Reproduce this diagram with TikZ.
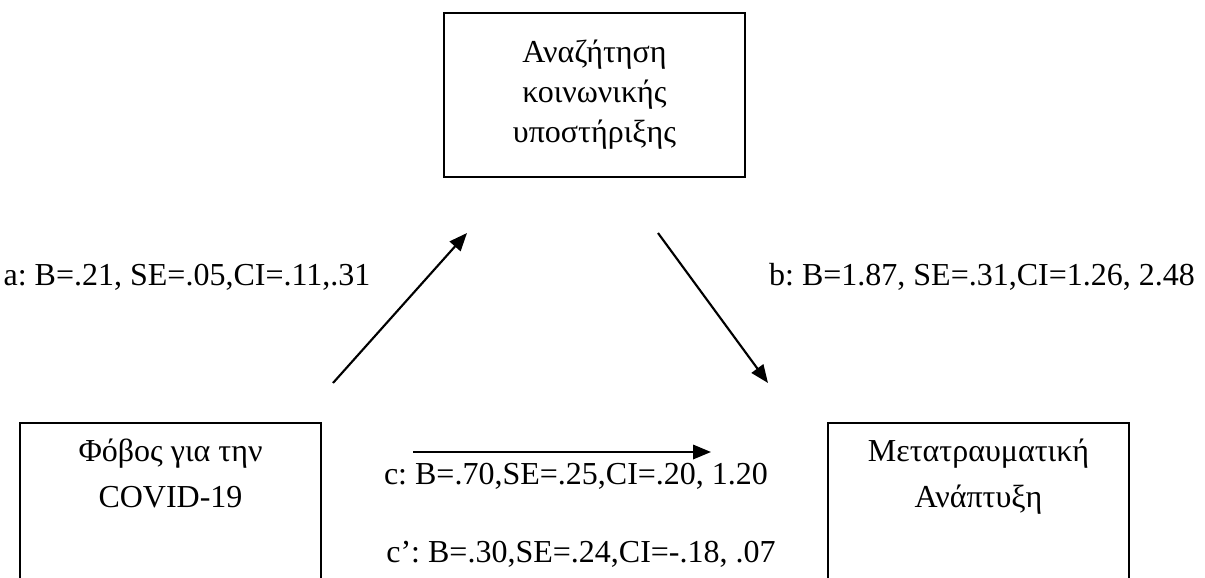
\documentclass[tikz,border=0pt]{standalone}
\usepackage{fontspec}
\setmainfont{Liberation Serif}
\usetikzlibrary{arrows.meta}
\frenchspacing

\tikzstyle{box} = [rectangle, draw=black, line width=0.8pt, align=center, minimum width=112.9pt, font=\fontsize{12}{17.25}\selectfont]
\tikzstyle{path_lbl} = [font=\fontsize{12}{14}\selectfont, inner sep=0pt]
\tikzstyle{arrow} = [line width=0.8pt, -{Triangle[length=6.75pt, width=5.4pt]}]

\begin{document}
\begin{tikzpicture}[x=0.375pt, y=-0.375pt]
\useasboundingbox (0,0) rectangle (1205,578);
\clip (0,0) rectangle (1205,578);
% Mediation model
\node (support) [box, font=\fontsize{12}{15}\selectfont, minimum height=61.5pt] at (594.5,95) {Αναζήτηση\\κοινωνικής\\υποστήριξης};
\node (fear) [box, anchor=north, inner ysep=6pt, text depth=60pt] at (170.5,422) {Φόβος για την\\COVID-19};
\node (growth) [box, anchor=north, inner ysep=6pt, text depth=60pt] at (978.5,422) {Μετατραυματική\\Ανάπτυξη};

\coordinate (a_start) at (333,383);
\coordinate (a_end) at (467,233);
\coordinate (b_start) at (658,233);
\coordinate (b_end) at (768,383);
\coordinate (c_start) at (413,452);
\coordinate (c_end) at (711,452);

\draw [arrow] (a_start) -- (a_end);
\draw [arrow] (b_start) -- (b_end);
\draw [arrow] (c_start) -- (c_end);

\node (lbl_a) [path_lbl] at (187,277) {a: B=.21, SE=.05,CI=.11,.31};
\node (lbl_b) [path_lbl] at (982,277) {b: B=1.87, SE=.31,CI=1.26, 2.48};
\node (lbl_c) [path_lbl] at (576,476) {c: B=.70,SE=.25,CI=.20, 1.20};
\node (lbl_cp) [path_lbl] at (581,554) {c’: B=.30,SE=.24,CI=-.18, .07};
\end{tikzpicture}
\end{document}
